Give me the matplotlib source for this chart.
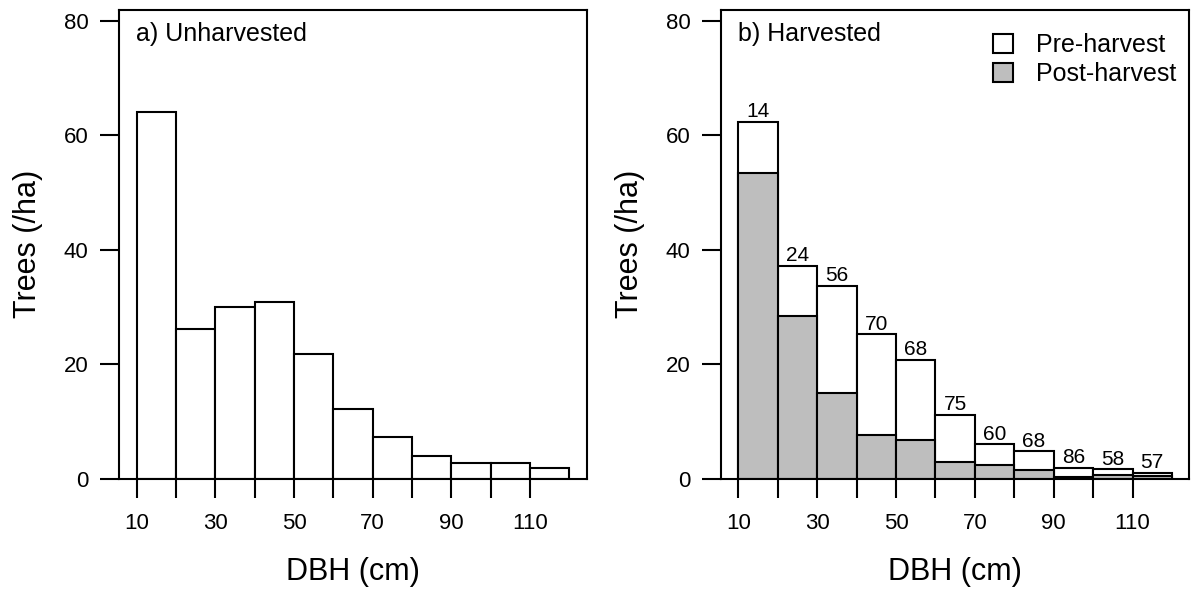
import matplotlib
matplotlib.use("Agg")
import matplotlib.pyplot as plt
import matplotlib.patches as patches

plt.rcParams["font.family"] = ["Liberation Sans", "DejaVu Sans"]

# DBH classes (left edges, cm) and densities (trees/ha)
dbh_left = [10, 20, 30, 40, 50, 60, 70, 80, 90, 100, 110]
unharvested = [64.1, 26.1, 30.0, 30.8, 21.8, 12.1, 7.2, 3.9, 2.7, 2.7, 1.9]
pre_harvest = [62.3, 37.2, 33.7, 25.2, 20.8, 11.1, 5.95, 4.75, 1.9, 1.6, 1.0]
post_harvest = [53.4, 28.4, 14.9, 7.65, 6.7, 2.8, 2.3, 1.5, 0.26, 0.67, 0.43]
pct_removed = [14, 24, 56, 70, 68, 75, 60, 68, 86, 58, 57]

x_ticks = [10, 20, 30, 40, 50, 60, 70, 80, 90, 100, 110]
x_ticklabels = ["10", "", "30", "", "50", "", "70", "", "90", "", "110"]
y_ticks = [0, 20, 40, 60, 80]

GREY = "#bebebe"
LW = 1.5
BIN_W = 10

fig = plt.figure(figsize=(11.93, 6.01), dpi=100)
ax1 = fig.add_axes([0.1000, 0.2038, 0.3918, 0.7795])
ax2 = fig.add_axes([0.6044, 0.2038, 0.3925, 0.7795])


def style_axis(ax, title):
    ax.set_xlim(5.6, 124.4)
    ax.set_ylim(0, 81.9)
    ax.set_xticks(x_ticks)
    ax.set_xticklabels(x_ticklabels)
    ax.set_yticks(y_ticks)
    ax.tick_params(axis="both", direction="out", length=14, width=LW,
                   labelsize=16, color="black")
    ax.tick_params(axis="x", pad=11)
    ax.tick_params(axis="y", pad=8)
    for sp in ax.spines.values():
        sp.set_linewidth(LW)
    ax.set_xlabel("DBH (cm)", fontsize=22)
    ax.set_ylabel("Trees (/ha)", fontsize=22)
    ax.xaxis.set_label_coords(0.5, -0.168)
    ax.yaxis.set_label_coords(-0.163, 0.5)
    ax.text(0.036, 0.934, title, transform=ax.transAxes, fontsize=18,
            ha="left", va="baseline")


# a) unharvested
ax1.bar(dbh_left, unharvested, width=BIN_W, align="edge", color="white",
        edgecolor="black", linewidth=LW)
style_axis(ax1, "a) Unharvested")

# b) harvested
ax2.bar(dbh_left, pre_harvest, width=BIN_W, align="edge", color="white",
        edgecolor="black", linewidth=LW)
ax2.bar(dbh_left, post_harvest, width=BIN_W, align="edge", color=GREY,
        edgecolor="black", linewidth=LW)
for x, h, p in zip(dbh_left, pre_harvest, pct_removed):
    ax2.annotate(str(p), (x + BIN_W / 2, h), xytext=(0, 0.5),
                 textcoords="offset points", ha="center", va="bottom",
                 fontsize=15)
style_axis(ax2, "b) Harvested")

handles = [
    patches.Patch(facecolor="white", edgecolor="black", linewidth=LW, label="Pre-harvest"),
    patches.Patch(facecolor=GREY, edgecolor="black", linewidth=LW, label="Post-harvest"),
]
ax2.legend(handles=handles, loc="upper left", bbox_to_anchor=(0.581, 0.95),
           frameon=False, fontsize=18, handlelength=0.8, handleheight=0.8,
           handletextpad=0.9, labelspacing=0.2, borderpad=0, borderaxespad=0)

plt.savefig("out.png", dpi=100)
